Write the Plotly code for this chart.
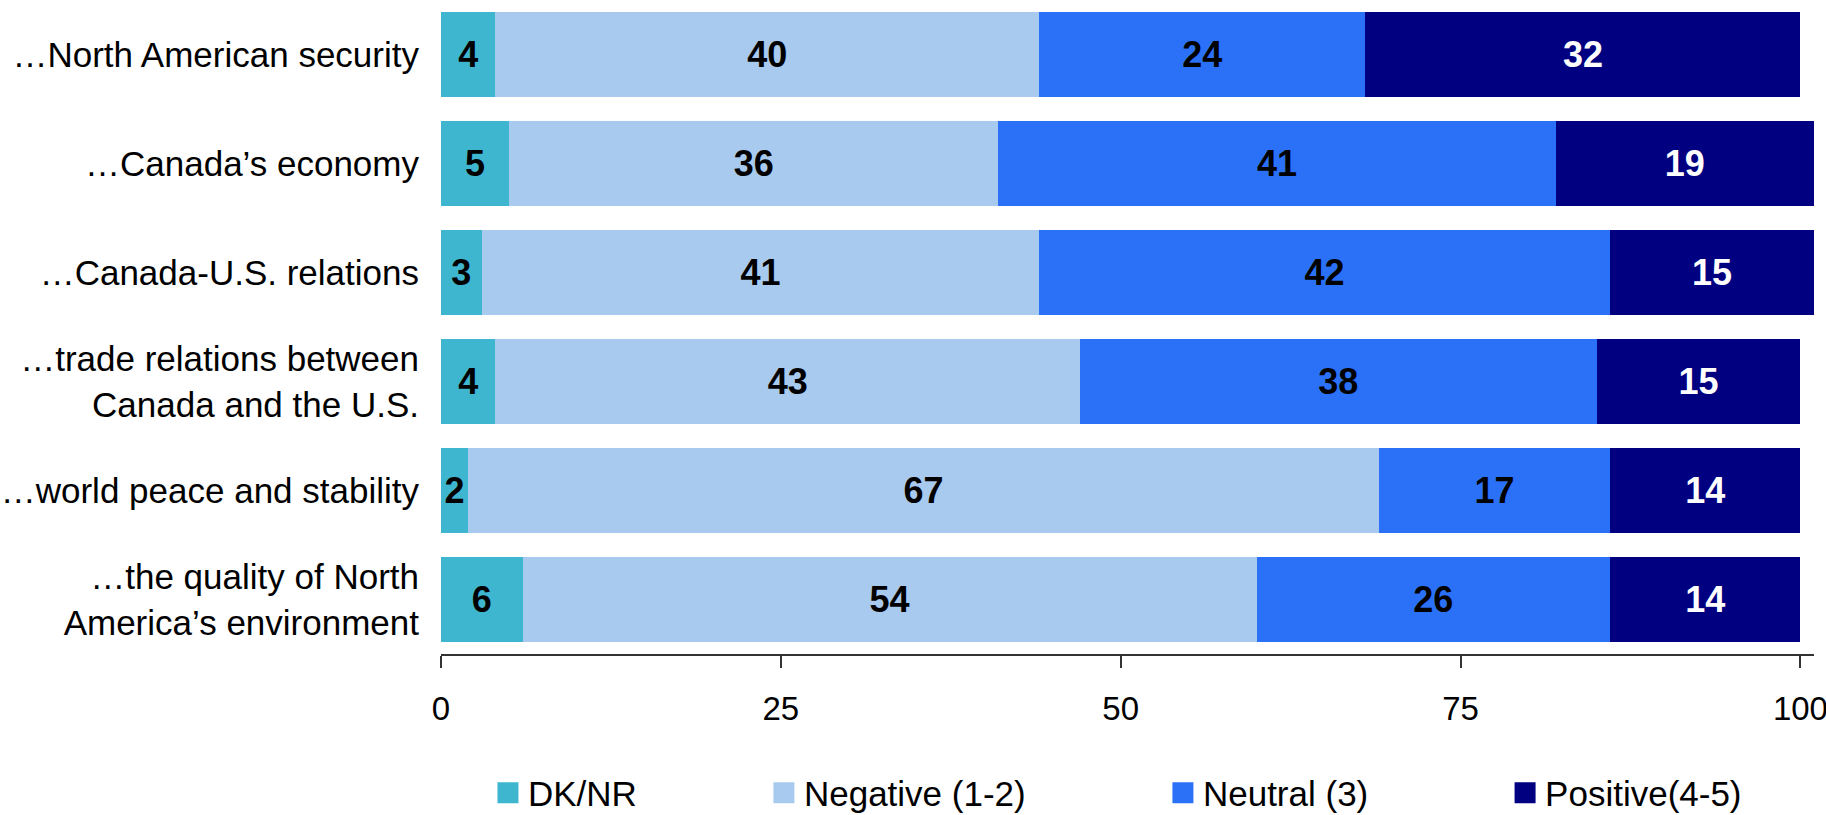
import plotly.graph_objects as go

categories = [
    "…North American security",
    "…Canada’s economy",
    "…Canada-U.S. relations",
    "…trade relations between<br>Canada and the U.S.",
    "…world peace and stability",
    "…the quality of North<br>America’s environment",
]

dk_nr = [4, 5, 3, 4, 2, 6]
negative = [40, 36, 41, 43, 67, 54]
neutral = [24, 41, 42, 38, 17, 26]
positive = [32, 19, 15, 15, 14, 14]

series = [
    ("DK/NR", dk_nr, "#3fb6cf", "black", 0.0342),
    ("Negative (1-2)", negative, "#a8caef", "black", 0.2352),
    ("Neutral (3)", neutral, "#2b71f8", "black", 0.5258),
    ("Positive(4-5)", positive, "#000080", "white", 0.7750),
]

sans = "Liberation Sans, Arial, sans-serif"

fig = go.Figure()

for i, (name, vals, color, txtcolor, lx) in enumerate(series):
    lg = "legend" if i == 0 else "legend%d" % (i + 1)
    fig.add_trace(go.Bar(
        y=categories,
        x=vals,
        orientation="h",
        name=name,
        legendgroup=name,
        showlegend=False,
        marker=dict(color=color, line=dict(width=0)),
        text=[str(v) for v in vals],
        textposition="inside",
        insidetextanchor="middle",
        constraintext="none",
        textangle=0,
        textfont=dict(family=sans, size=36, color=txtcolor, weight="bold"),
        cliponaxis=False,
        hoverinfo="x+name",
    ))
    # legend entry with a larger square
    fig.add_trace(go.Scatter(
        x=[None], y=[None],
        mode="markers",
        name=name,
        legendgroup=name,
        legend=lg,
        marker=dict(symbol="square", size=25, color=color,
                    line=dict(width=5, color=color)),
    ))
    fig.layout[lg] = dict(
        x=lx, xanchor="left", y=-0.2125, yanchor="middle",
        orientation="h", bgcolor="rgba(0,0,0,0)",
        font=dict(family=sans, size=35, color="black"),
    )

fig.update_layout(
    barmode="stack",
    bargap=0.225,
    width=1826,
    height=815,
    margin=dict(l=441, r=12, t=0, b=161, autoexpand=False),
    plot_bgcolor="white",
    paper_bgcolor="white",
    font=dict(family=sans, color="black"),
    xaxis=dict(
        range=[0, 101],
        tickvals=[0, 25, 50, 75, 100],
        ticks="outside",
        ticklen=12,
        tickwidth=2,
        tickcolor="#333333",
        showline=True,
        linecolor="#333333",
        linewidth=2,
        showgrid=False,
        zeroline=False,
        tickfont=dict(size=33, family=sans),
        ticklabelstandoff=12,
        ticklabeloverflow="allow",
        automargin=False,
    ),
    yaxis=dict(
        autorange="reversed",
        showline=False,
        showgrid=False,
        ticks="",
        tickfont=dict(size=35, family=sans),
        ticklabelstandoff=21,
        automargin=False,
    ),
)

fig.write_html("out.html", config={"displayModeBar": False},
               post_script="document.body.style.margin = '0';")
